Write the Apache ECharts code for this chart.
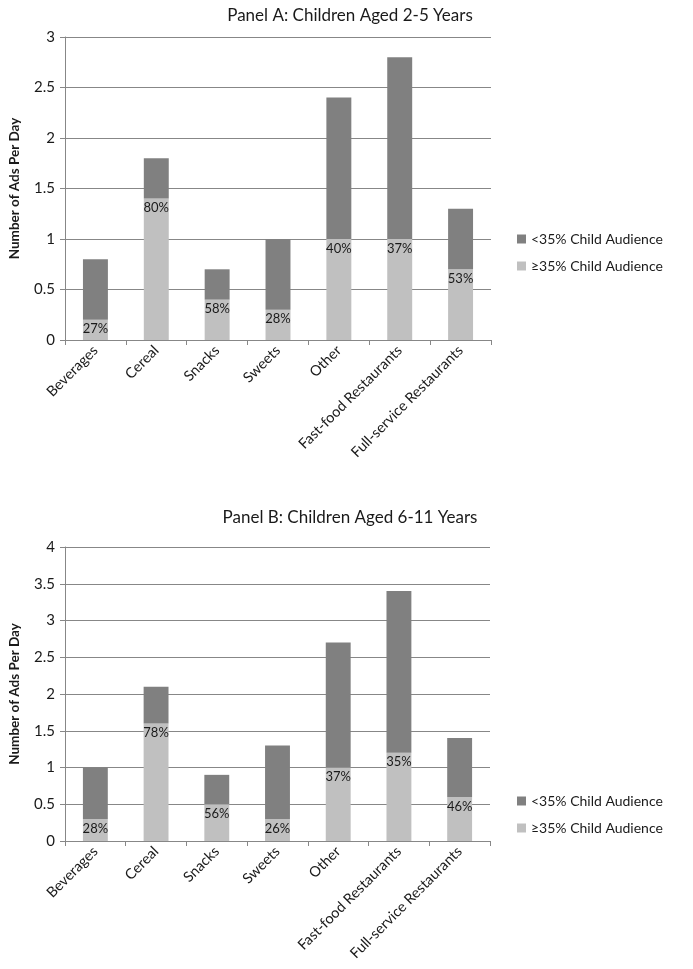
<!DOCTYPE html>
<html><head><meta charset="utf-8">
<script src="https://cdn.jsdelivr.net/npm/echarts@6/dist/echarts.min.js"></script>
<style>html,body{margin:0;padding:0;background:#fff}#c{width:693px;height:969px}</style>
</head><body><div id="c"></div>
<script>
const categories = ['Beverages','Cereal','Snacks','Sweets','Other','Fast-food Restaurants','Full-service Restaurants'];
const seriesNames = ['<35% Child Audience','\u226535% Child Audience'];
// Panel A: Children Aged 2-5 Years
const aHigh = [0.2, 1.4, 0.4, 0.3, 1.0, 1.0, 0.7];   // >=35% child audience
const aLow  = [0.6, 0.4, 0.3, 0.7, 1.4, 1.8, 0.6];   // <35% child audience (stacked above)
const aPct  = ['27%','80%','58%','28%','40%','37%','53%'];
const aTicks = [0, 0.5, 1, 1.5, 2, 2.5, 3];
// Panel B: Children Aged 6-11 Years
const bHigh = [0.3, 1.6, 0.5, 0.3, 1.0, 1.2, 0.6];
const bLow  = [0.7, 0.5, 0.4, 1.0, 1.7, 2.2, 0.8];
const bPct  = ['28%','78%','56%','26%','37%','35%','46%'];
const bTicks = [0, 0.5, 1, 1.5, 2, 2.5, 3, 3.5, 4];

const FONT = 'Lato';
const DARK = '#808080', LIGHT = '#c0c0c0', LINE = '#878787', TXT = '#1a1a1a';

function xAx(gi){
  return {type:'category', gridIndex:gi, data:categories, boundaryGap:true,
    axisLine:{lineStyle:{color:LINE, width:1}},
    axisTick:{show:true, length:5, lineStyle:{color:LINE}, alignWithLabel:false},
    axisLabel:{rotate:45, interval:0, fontFamily:FONT, fontSize:14.5, color:TXT, margin:8}};
}
function yAx(gi, ticks){
  return {type:'value', gridIndex:gi, min:ticks[0], max:ticks[ticks.length-1], interval:0.5,
    name:'Number of Ads Per Day', nameLocation:'middle', nameGap:43,
    nameTextStyle:{fontFamily:FONT, fontWeight:'bold', fontSize:13.5, color:TXT},
    axisLine:{show:true, lineStyle:{color:LINE, width:1}},
    axisTick:{show:true, length:5, lineStyle:{color:LINE}},
    splitLine:{lineStyle:{color:LINE, width:1}},
    axisLabel:{fontFamily:FONT, fontSize:15, color:TXT, margin:10}};
}
function ser(gi, high, low, pct, stack){
  return [
    {name:seriesNames[1], type:'bar', xAxisIndex:gi, yAxisIndex:gi, stack:stack, data:high, barWidth:'41%',
     itemStyle:{color:LIGHT},
     label:{show:true, position:'insideTop', distance:3, fontFamily:FONT, fontSize:13, color:TXT,
       formatter:p=>pct[p.dataIndex]}},
    {name:seriesNames[0], type:'bar', xAxisIndex:gi, yAxisIndex:gi, stack:stack, data:low, barWidth:'41%',
     itemStyle:{color:DARK}}
  ];
}
function leg(top){
  return {orient:'vertical', left:512, top:top, itemWidth:9, itemHeight:9, itemGap:13, icon:'rect',
    data:seriesNames, textStyle:{fontFamily:FONT, fontSize:14, color:TXT}, selectedMode:false};
}
const chart = echarts.init(document.getElementById('c'), null, {renderer:'canvas'});
chart.setOption({
  animation:false,
  title:[
    {text:'Panel A: Children Aged 2-5 Years', left:345, top:2, textAlign:'center',
     textStyle:{fontFamily:FONT, fontWeight:'normal', fontSize:17, color:TXT}},
    {text:'Panel B: Children Aged 6-11 Years', left:345, top:504, textAlign:'center',
     textStyle:{fontFamily:FONT, fontWeight:'normal', fontSize:17, color:TXT}}
  ],
  legend:[leg(227), leg(789)],
  grid:[
    {left:56, right:202, top:37, bottom:629, containLabel:false},
    {left:56, right:203, top:547, bottom:128, containLabel:false}
  ],
  xAxis:[xAx(0), xAx(1)],
  yAxis:[yAx(0, aTicks), yAx(1, bTicks)],
  series:[...ser(0, aHigh, aLow, aPct, 'a'), ...ser(1, bHigh, bLow, bPct, 'b')]
});
</script></body></html>
